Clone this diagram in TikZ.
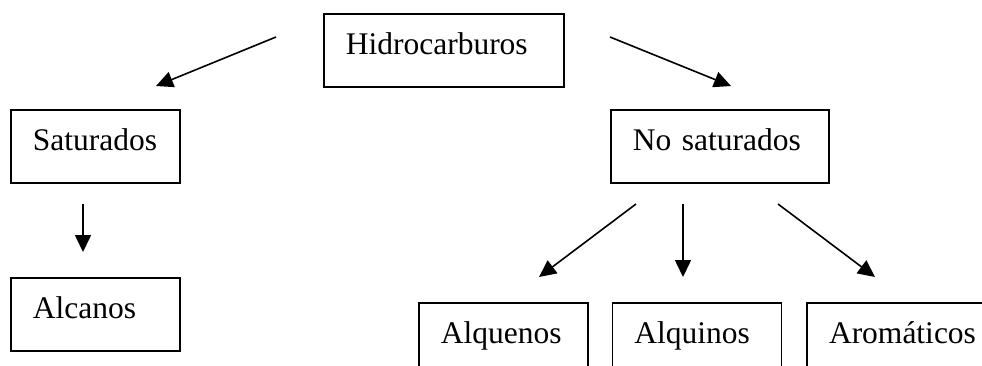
\documentclass[tikz,border=0pt]{standalone}
\usepackage{fontspec}
\setmainfont{Liberation Serif}
\usetikzlibrary{arrows.meta,positioning}

\begin{document}
\begin{tikzpicture}[
    x=1pt, y=-1pt,
    node distance=95pt and 23pt,
    box/.style={rectangle, draw=black, line width=1.6pt, anchor=north west, align=left, inner xsep=22pt, inner ysep=0pt, text height=41pt, text depth=32pt, font=\fontsize{31.5}{38}\selectfont},
    arrow/.style={-{Triangle[length=17pt,width=16pt]}, line width=1.6pt}
]
    \useasboundingbox (0,0) rectangle (982,365);
    \clip (0,0) rectangle (982,365);

    \node [box, text width=196pt] (hidro) at (323,13) {Hidrocarburos};
    \node [box, text width=125pt] (sat) at (10,109) {Saturados};
    \node [box, text width=174pt] (nosat) at (610,109) {No saturados};
    \node [box, text width=125pt] (alcanos) at (10,277) {Alcanos};
    \node [box, text width=125pt] (alquenos) at (418,302) {Alquenos};
    \node [box, text width=125pt, right=of alquenos] (alquinos) {Alquinos};
    \node [box, text width=156pt, right=24pt of alquinos] (aromaticos) {Aromáticos};

    % loose arrow ends
    \coordinate (h-l) at (276,37);  \coordinate (sat-t) at (156,86);
    \coordinate (h-r) at (610,37);  \coordinate (nosat-t) at (731,86);
    \coordinate (sat-b) at (83,204); \coordinate (alcanos-t) at (83,252);
    \coordinate (nosat-l) at (636,204); \coordinate (alquenos-t) at (539,277);
    \coordinate (nosat-m) at (683,204); \coordinate (alquinos-t) at (683,277);
    \coordinate (nosat-r) at (778,204); \coordinate (aromaticos-t) at (875,277);

    \draw [arrow] (h-l) -- (sat-t);
    \draw [arrow] (h-r) -- (nosat-t);
    \draw [arrow] (sat-b) -- (alcanos-t);
    \draw [arrow] (nosat-l) -- (alquenos-t);
    \draw [arrow] (nosat-m) -- (alquinos-t);
    \draw [arrow] (nosat-r) -- (aromaticos-t);
\end{tikzpicture}
\end{document}
